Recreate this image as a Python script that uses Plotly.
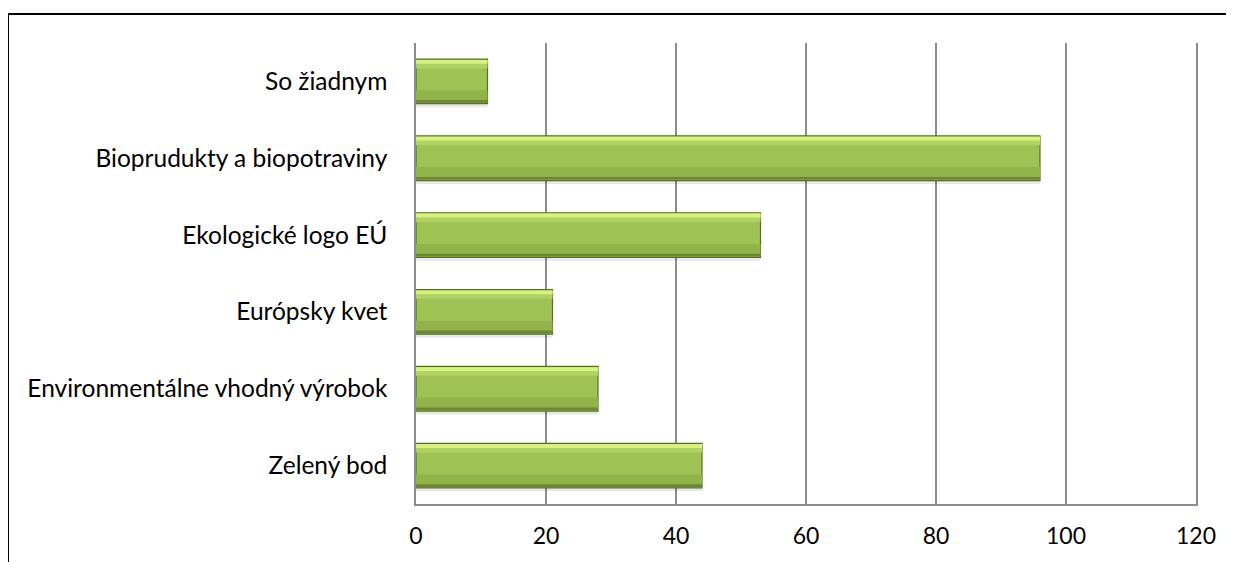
import plotly.graph_objects as go

categories = [
    "Zelený bod",
    "Environmentálne vhodný výrobok",
    "Európsky kvet",
    "Ekologické logo EÚ",
    "Bioprudukty a biopotraviny",
    "So žiadnym",
]
values = [44, 28, 21, 53, 96, 11]
x_ticks = [0, 20, 40, 60, 80, 100, 120]

BAR_W = 0.58
FONT = "Lato, Carlito, 'Open Sans', sans-serif"

fig = go.Figure()

# soft shadow
fig.add_trace(go.Bar(
    y=categories, x=values, orientation="h",
    width=BAR_W, offset=-BAR_W / 2 - 0.045,
    marker=dict(color="rgba(0,0,0,0.09)", line=dict(width=0)),
    hoverinfo="skip", showlegend=False,
))
# main body
fig.add_trace(go.Bar(
    y=categories, x=values, orientation="h",
    width=BAR_W, offset=-BAR_W / 2,
    marker=dict(color="#9EC254", line=dict(color="#556F27", width=1.2)),
    showlegend=False,
))
# lower darker bands
fig.add_trace(go.Bar(
    y=categories, x=values, orientation="h",
    width=0.16, offset=-BAR_W / 2 + 0.015,
    marker=dict(color="#91B349", line=dict(width=0)),
    hoverinfo="skip", showlegend=False,
))
fig.add_trace(go.Bar(
    y=categories, x=values, orientation="h",
    width=0.035, offset=-BAR_W / 2 + 0.012,
    marker=dict(color="#6A8832", line=dict(width=0)),
    hoverinfo="skip", showlegend=False,
))
# upper highlight bands
fig.add_trace(go.Bar(
    y=categories, x=values, orientation="h",
    width=0.11, offset=BAR_W / 2 - 0.12,
    marker=dict(color="#AFD262", line=dict(width=0)),
    hoverinfo="skip", showlegend=False,
))
fig.add_trace(go.Bar(
    y=categories, x=values, orientation="h",
    width=0.05, offset=BAR_W / 2 - 0.06,
    marker=dict(color="#D6F182", line=dict(width=0)),
    hoverinfo="skip", showlegend=False,
))

fig.update_layout(
    width=1234, height=562,
    margin=dict(l=408, r=46, t=35, b=66),
    paper_bgcolor="white", plot_bgcolor="white",
    barmode="overlay",
    font=dict(family=FONT, size=24.5, color="black"),
    showlegend=False,
    xaxis=dict(
        range=[0, 120], tickvals=x_ticks, ticktext=[str(v) for v in x_ticks],
        showgrid=True, gridcolor="#8C8C8C", gridwidth=1.5,
        showline=True, linecolor="#8C8C8C", linewidth=1.5,
        ticks="outside", ticklen=11, tickcolor="rgba(0,0,0,0)",
        tickfont=dict(size=23),
        zeroline=False, mirror=False,
    ),
    yaxis=dict(
        showline=True, linecolor="#8C8C8C", linewidth=1.5, mirror=True,
        ticks="outside", ticklen=22, tickcolor="rgba(0,0,0,0)",
        showgrid=False, zeroline=False,
    ),
    shapes=[dict(
        type="rect", xref="paper", yref="paper",
        x0=(0 - 408) / 780, x1=1.3, y0=-0.3, y1=(496 - 6) / 461,
        line=dict(color="black", width=2), fillcolor="rgba(0,0,0,0)",
        layer="below",
    )],
)

fig.write_html("out.html")
